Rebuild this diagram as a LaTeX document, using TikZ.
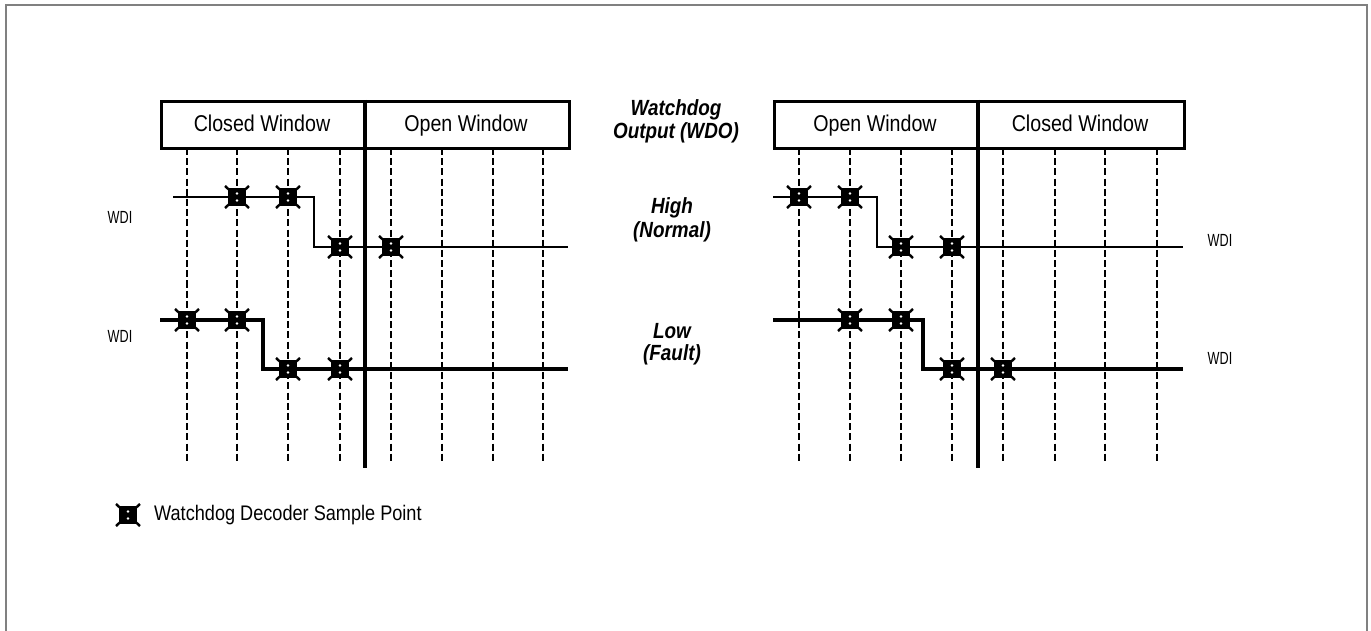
\documentclass[tikz,border=0pt]{standalone}
\usepackage{fontspec}
\setmainfont{Liberation Sans}
\newfontfamily\narrowfont[FakeStretch=0.86]{Liberation Sans}
\newfontfamily\wdifont[FakeStretch=0.72]{Liberation Sans}
\begin{document}
\begin{tikzpicture}[x=0.02cm, y=-0.02cm,
                hdr/.style={draw, line width=1.5pt, minimum height=0.94cm, inner sep=0pt},
                wtxt/.style={font=\narrowfont\fontsize{13pt}{15pt}\selectfont, text height=1.7ex, text depth=0.45ex},
                mode/.style={font=\narrowfont\bfseries\itshape\fontsize{12.5pt}{14pt}\selectfont},
                lbl/.style={font=\wdifont\fontsize{10pt}{11pt}\selectfont},
                cls/.style={dashed, dash pattern=on 4pt off 1.8pt, line width=1.2pt},
                opn/.style={dashed, dash pattern=on 4pt off 1.8pt, line width=0.6pt},
                sig/.style={line width=1.1pt},
                sigf/.style={line width=1.8pt},
                div/.style={line width=1.8pt},
                smp/.pic={
                    \fill (-9,-9) rectangle (9,9);
                    \draw[line width=1.4pt] (-12,-11) -- (12,11) (-12,11) -- (12,-11);
                    \fill[white] (0,-3.5) circle (1.3) (0,3.5) circle (1.3);
                }
            ]
            \useasboundingbox (0,0) rectangle (1371,631);
            % frame
            \draw[gray, line width=1.2pt] (6,631) -- (6,5) -- (1367,5) -- (1367,631);

            % left diagram: WDO high
            \foreach \x in {187,237,288,340} \draw[cls] (\x,148) -- (\x,463);
            \foreach \x in {391,442,493,543} \draw[opn] (\x,148) -- (\x,463);
            \node[hdr, anchor=north west, minimum width=8.16cm] (lbox) at (160,100) {};
            \draw[div] (365,100) -- (365,468);
            \node[wtxt] (lcw) at (262,126) {Closed Window};
            \node[wtxt] (low) at (466,126) {Open Window};
            \draw[sig] (173,197) -| (314,247) -- (568,247);
            \draw[sigf] (160,320) -| (263,369) -- (568,369);
            \foreach \p in {(237,197),(288,197),(340,247),(391,247),(187,320),(237,320),(288,369),(340,369)}
                \pic at \p {smp};
            \node[lbl] (lwdia) at (120,217) {WDI};
            \node[lbl] (lwdib) at (120,336) {WDI};

            % right diagram: WDO low
            \foreach \x in {799,850,901,952} \draw[opn] (\x,148) -- (\x,463);
            \foreach \x in {1003,1055,1105,1157} \draw[cls] (\x,148) -- (\x,463);
            \node[hdr, anchor=north west, minimum width=8.2cm] (rbox) at (773,100) {};
            \draw[div] (978,100) -- (978,468);
            \node[wtxt] (row) at (875,126) {Open Window};
            \node[wtxt] (rcw) at (1080,126) {Closed Window};
            \draw[sig] (773,197) -| (877,247) -- (1183,247);
            \draw[sigf] (773,320) -| (923,369) -- (1183,369);
            \foreach \p in {(799,197),(850,197),(901,247),(952,247),(850,320),(901,320),(952,369),(1003,369)}
                \pic at \p {smp};
            \node[lbl] (rwdia) at (1220,240) {WDI};
            \node[lbl] (rwdib) at (1220,358) {WDI};

            % middle labels
            \node[mode] (wdoa) at (676,110) {Watchdog};
            \node[mode] (wdob) at (676,133) {Output (WDO)};
            \node[mode] (hia)  at (672,208) {High};
            \node[mode] (hib)  at (672,232) {(Normal)};
            \node[mode] (loa)  at (672,331) {Low};
            \node[mode] (lob)  at (672,355) {(Fault)};

            % legend
            \pic at (128,515) {smp};
            \node[wtxt, anchor=west, font=\narrowfont\fontsize{12pt}{14pt}\selectfont] (leg) at (148,515) {Watchdog Decoder Sample Point};
\end{tikzpicture}
\end{document}
